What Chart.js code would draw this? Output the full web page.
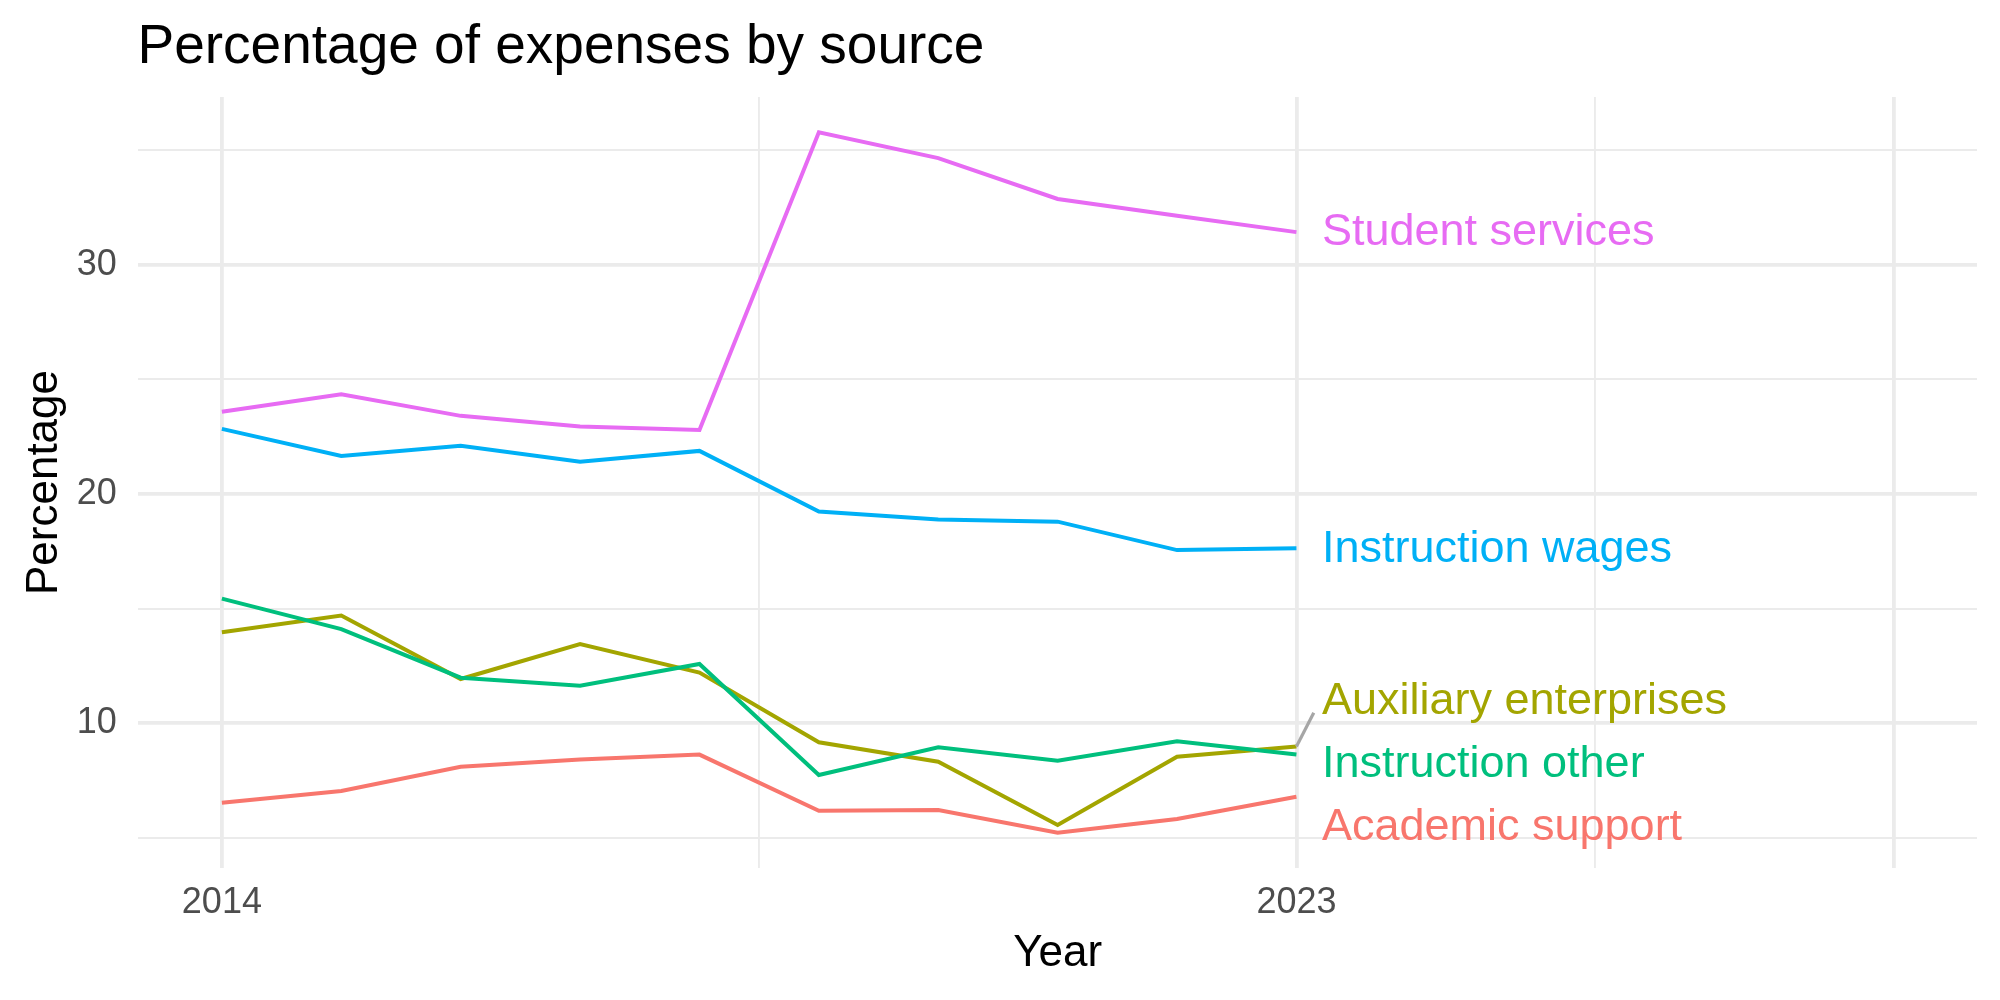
<!DOCTYPE html>
<html>
<head>
<meta charset="utf-8">
<script src="https://cdn.jsdelivr.net/npm/chart.js@4/dist/chart.umd.min.js"></script>
<style>
  html, body { margin: 0; padding: 0; background: #ffffff; }
  #wrap { width: 2000px; height: 1000px; position: relative; }
</style>
</head>
<body>
<div id="wrap"><canvas id="myChart"></canvas></div>
<script>
// data
var years = [2014, 2015, 2016, 2017, 2018, 2019, 2020, 2021, 2022, 2023];
var academicSupport = [6.52, 7.03, 8.09, 8.41, 8.62, 6.17, 6.20, 5.21, 5.81, 6.78];
var auxiliaryEnterprises = [13.96, 14.69, 11.92, 13.45, 12.20, 9.16, 8.31, 5.55, 8.53, 8.97];
var instructionOther = [15.43, 14.10, 11.98, 11.63, 12.58, 7.73, 8.94, 8.35, 9.20, 8.63];
var instructionWages = [22.84, 21.66, 22.10, 21.41, 21.88, 19.23, 18.89, 18.79, 17.55, 17.63];
var studentServices = [23.59, 24.35, 23.41, 22.94, 22.79, 35.79, 34.66, 32.88, 32.15, 31.43];

var seriesNames = ["Academic support", "Auxiliary enterprises", "Instruction other", "Instruction wages", "Student services"];
var seriesColors = ["#F8766D", "#A3A500", "#00BF7D", "#00B0F6", "#E76BF3"];

var xTicks = [2014, 2018.5, 2023, 2025.5, 2028];
var xLabels = ["2014", "", "2023", "", ""];
var yTicks = [5, 10, 15, 20, 25, 30, 35];
var yLabels = ["", "10", "", "20", "", "30", ""];

// where the end labels sit (value units), repelled like ggrepel did
var labelY = [5.44, 10.93, 8.19, 17.59, 31.42];

var FONT = "'Liberation Sans', Arial, sans-serif";

var allSeries = [academicSupport, auxiliaryEnterprises, instructionOther, instructionWages, studentServices];

var datasets = [];
for (let i = 0; i < allSeries.length; i++) {
  datasets.push({
    label: seriesNames[i],
    data: years.map(function (y, k) { return { x: y, y: allSeries[i][k] }; }),
    borderColor: seriesColors[i],
    backgroundColor: seriesColors[i],
    borderWidth: 4,
    pointRadius: 0,
    tension: 0,
    order: allSeries.length - i
  });
}

// title, axis titles, end labels
var textPlugin = {
  id: "texts",
  afterDatasetsDraw: function (chart) {
    var ctx = chart.ctx;
    var xs = chart.scales.x, ys = chart.scales.y;
    var area = chart.chartArea;
    ctx.save();

    // connector for the repelled label
    ctx.strokeStyle = "#A6A6A6";
    ctx.lineWidth = 3.2;
    ctx.beginPath();
    ctx.moveTo(xs.getPixelForValue(2023), ys.getPixelForValue(auxiliaryEnterprises[9]));
    ctx.lineTo(xs.getPixelForValue(2023.145), ys.getPixelForValue(10.45));
    ctx.stroke();

    ctx.font = "45px " + FONT;
    ctx.textAlign = "left";
    ctx.textBaseline = "middle";
    for (let i = 0; i < seriesNames.length; i++) {
      ctx.fillStyle = seriesColors[i];
      ctx.fillText(seriesNames[i], xs.getPixelForValue(2023) + 25.5, ys.getPixelForValue(labelY[i]));
    }

    ctx.fillStyle = "#000000";
    ctx.textBaseline = "alphabetic";
    ctx.font = "55px " + FONT;
    ctx.fillText("Percentage of expenses by source", 137.5, 63);

    ctx.font = "44px " + FONT;
    ctx.textAlign = "center";
    ctx.fillText("Year", (area.left + area.right) / 2, 966);

    ctx.translate(56.5, (area.top + area.bottom) / 2);
    ctx.rotate(-Math.PI / 2);
    ctx.fillText("Percentage", 0, 0);
    ctx.restore();
  }
};

const config = {
  type: "line",
  data: { datasets: datasets },
  options: {
    responsive: true,
    maintainAspectRatio: false,
    devicePixelRatio: 1,
    animation: false,
    layout: { padding: { top: 97, right: 23, bottom: 0, left: 0 } },
    plugins: {
      legend: { display: false },
      tooltip: { enabled: false },
      title: { display: false }
    },
    scales: {
      x: {
        type: "linear",
        min: 2013.3,
        max: 2028.7,
        afterBuildTicks: function (scale) {
          scale.ticks = xTicks.map(function (v) { return { value: v }; });
        },
        afterFit: function (scale) { scale.height = 132; },
        border: { display: false },
        grid: {
          color: "#EBEBEB",
          drawTicks: false,
          lineWidth: function (c) {
            return (c.tick && (c.tick.value === 2018.5 || c.tick.value === 2025.5)) ? 1.9 : 3.8;
          }
        },
        ticks: {
          autoSkip: false,
          maxRotation: 0,
          padding: 13,
          color: "#4D4D4D",
          font: { family: FONT, size: 36 },
          callback: function (v) {
            var k = xTicks.indexOf(v);
            return k >= 0 ? xLabels[k] : "";
          }
        }
      },
      y: {
        type: "linear",
        min: 3.67,
        max: 37.33,
        afterBuildTicks: function (scale) {
          scale.ticks = yTicks.map(function (v) { return { value: v }; });
        },
        afterFit: function (scale) { scale.width = 138.3; },
        border: { display: false },
        grid: {
          color: "#EBEBEB",
          drawTicks: false,
          lineWidth: function (c) {
            return (c.tick && c.tick.value % 10 === 0) ? 3.8 : 1.9;
          }
        },
        ticks: {
          autoSkip: false,
          padding: 21.6,
          color: "#4D4D4D",
          font: { family: FONT, size: 36 },
          callback: function (v) {
            var k = yTicks.indexOf(v);
            return k >= 0 ? yLabels[k] : "";
          }
        }
      }
    }
  },
  plugins: [textPlugin]
};

const myChart = new Chart(document.getElementById("myChart"), config);
</script>
</body>
</html>
